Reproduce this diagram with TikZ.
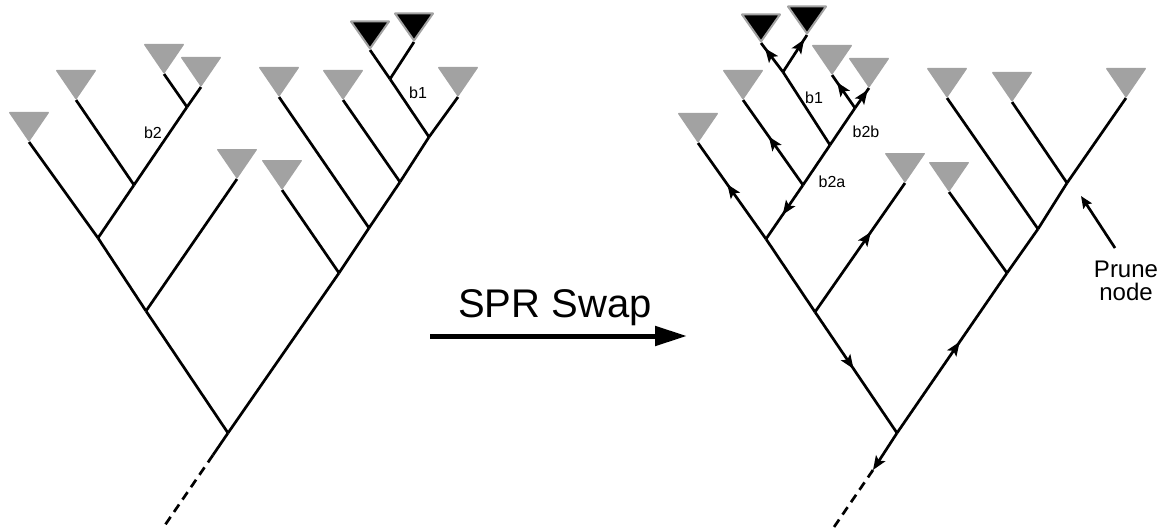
\documentclass[tikz,border=0pt]{standalone}
\usepackage{fontspec}
\setmainfont{Liberation Sans}
\usetikzlibrary{arrows.meta,decorations.markings}
\definecolor{leafgray}{RGB}{162,162,162}
\tikzset{
  branch/.style={line width=2.7pt},
  stemdash/.style={line width=2.7pt, dash pattern=on 9pt off 6pt},
  midarrow/.style={postaction={decorate}, decoration={markings,
      mark=at position #1 with {\arrow{Stealth[length=14pt,width=11pt,inset=3pt]}}}},
  leaf/.pic={\fill[leafgray, rounded corners=1pt] (0,0) -- (-20.5,-30) -- (20.5,-30) -- cycle;},
  darkleaf/.pic={\draw[leafgray, fill=black, line width=2pt, line join=round] (0,-1.5) -- (-19,-28.5) -- (19,-28.5) -- cycle;},
  lbl/.style={font=\fontsize{16}{16}\selectfont, inner sep=0pt},
}
\begin{document}
\begin{tikzpicture}[x=1pt,y=-1pt]
\useasboundingbox (0,0) rectangle (1166,532);

% ---------------- left tree ----------------
\coordinate (lR) at (228,433);
\coordinate (lS) at (213,455);
\coordinate (lD0) at (163,528);
\coordinate (lA) at (146,311);
\coordinate (lB) at (339,273);
\coordinate (lC) at (98,238);
\coordinate (lD) at (134,185);
\coordinate (lE) at (187,107);
\coordinate (lF) at (369,228);
\coordinate (lG) at (400,182);
\coordinate (lH) at (429,137);
\coordinate (lI) at (390,79);
\coordinate (lT1) at (29,142);
\coordinate (lT2) at (76,100);
\coordinate (lT3) at (164,74);
\coordinate (lT4) at (201,87);
\coordinate (lT5) at (237,179);
\coordinate (lT6) at (282,190);
\coordinate (lT7) at (279,97);
\coordinate (lT8) at (343,100);
\coordinate (lT9) at (458,97);
\coordinate (lK1) at (370,50);
\coordinate (lK2) at (414,42);

\draw[branch] (lR) -- (lS);
\draw[stemdash] (lS) -- (lD0);
\draw[branch] (lR) -- (lA);
\draw[branch] (lR) -- (lB);
\draw[branch] (lA) -- (lC);
\draw[branch] (lA) -- (lT5);
\draw[branch] (lC) -- (lT1);
\draw[branch] (lC) -- (lD);
\draw[branch] (lD) -- (lT2);
\draw[branch] (lD) -- (lE);
\draw[branch] (lE) -- (lT3);
\draw[branch] (lE) -- (lT4);
\draw[branch] (lB) -- (lT6);
\draw[branch] (lB) -- (lF);
\draw[branch] (lF) -- (lT7);
\draw[branch] (lF) -- (lG);
\draw[branch] (lG) -- (lT8);
\draw[branch] (lG) -- (lH);
\draw[branch] (lH) -- (lT9);
\draw[branch] (lH) -- (lI);
\draw[branch] (lI) -- (lK1);
\draw[branch] (lI) -- (lK2);

\foreach \t in {lT1,lT2,lT3,lT4,lT5,lT6,lT7,lT8,lT9} {\pic at (\t) {leaf};}
\foreach \t in {lK1,lK2} {\pic at (\t) {darkleaf};}

\node[lbl] (lb2) at (153,133) {b2};
\node[lbl] (lb1) at (418,93) {b1};

% ---------------- SPR arrow ----------------
\coordinate (sw0) at (430,336);
\coordinate (sw1) at (687,336);
\draw[line width=5pt, -{Triangle[length=32pt,width=19pt]}] (sw0) -- (sw1);
\node[anchor=base, inner sep=0pt, font=\fontsize{40}{40}\selectfont] (spr) at (555,317) {SPR Swap};

% ---------------- right tree ----------------
\coordinate (rR) at (897,433);
\coordinate (rS) at (873,470);
\coordinate (rD0) at (832,530);
\coordinate (rA) at (815,312);
\coordinate (rB) at (1007,273);
\coordinate (rC) at (766,239);
\coordinate (rD) at (803,185);
\coordinate (rE) at (830,145);
\coordinate (rF) at (855,108);
\coordinate (rI) at (783,72);
\coordinate (rF2) at (1038,229);
\coordinate (rG2) at (1067,183);
\coordinate (rT1) at (698,143);
\coordinate (rT2) at (743,100);
\coordinate (rT3) at (832,75);
\coordinate (rT4) at (869,88);
\coordinate (rT5) at (905,183);
\coordinate (rT6) at (949,192);
\coordinate (rT7) at (947,98);
\coordinate (rT8) at (1012,102);
\coordinate (rT9) at (1126,98);
\coordinate (rK1) at (761,43);
\coordinate (rK2) at (807,35);

\draw[branch, -{Stealth[length=14pt,width=11pt,inset=3pt]}] (rR) -- (rS);
\draw[stemdash] (rS) -- (rD0);
\draw[branch, midarrow=0.47] (rA) -- (rR);
\draw[branch, midarrow=0.57] (rR) -- (rB);
\draw[branch] (rA) -- (rC);
\draw[branch, midarrow=0.62] (rA) -- (rT5);
\draw[branch, midarrow=0.57] (rC) -- (rT1);
\draw[branch, midarrow=0.55] (rD) -- (rC);
\draw[branch, midarrow=0.57] (rD) -- (rT2);
\draw[branch] (rD) -- (rE);
\draw[branch] (rE) -- (rI);
\draw[branch] (rE) -- (rF);
\draw[branch, midarrow=0.82] (rI) -- (rK1);
\draw[branch, midarrow=0.88] (rI) -- (rK2);
\draw[branch, midarrow=0.78] (rF) -- (rT3);
\draw[branch, midarrow=0.9] (rF) -- (rT4);
\draw[branch] (rB) -- (rT6);
\draw[branch] (rB) -- (rF2);
\draw[branch] (rF2) -- (rT7);
\draw[branch] (rF2) -- (rG2);
\draw[branch] (rG2) -- (rT8);
\draw[branch] (rG2) -- (rT9);

\foreach \t in {rT1,rT2,rT3,rT4,rT5,rT6,rT7,rT8,rT9} {\pic at (\t) {leaf};}
\foreach \t in {rK1,rK2} {\pic at (\t) {darkleaf};}

\node[lbl] (rb1) at (814,98) {b1};
\node[lbl] (rb2b) at (866,132) {b2b};
\node[lbl] (rb2a) at (832,182) {b2a};

% ---------------- prune node label ----------------
\node[anchor=base, inner sep=0pt, font=\fontsize{24}{24}\selectfont] (prune1) at (1126,277) {Prune};
\node[anchor=base, inner sep=0pt, font=\fontsize{24}{24}\selectfont] (prune2) at (1126,300) {node};
\coordinate (pr0) at (1115,248);
\coordinate (pr1) at (1081,196);
\draw[branch, -{Stealth[length=12pt,width=10pt,inset=2pt]}] (pr0) -- (pr1);
\end{tikzpicture}
\end{document}
